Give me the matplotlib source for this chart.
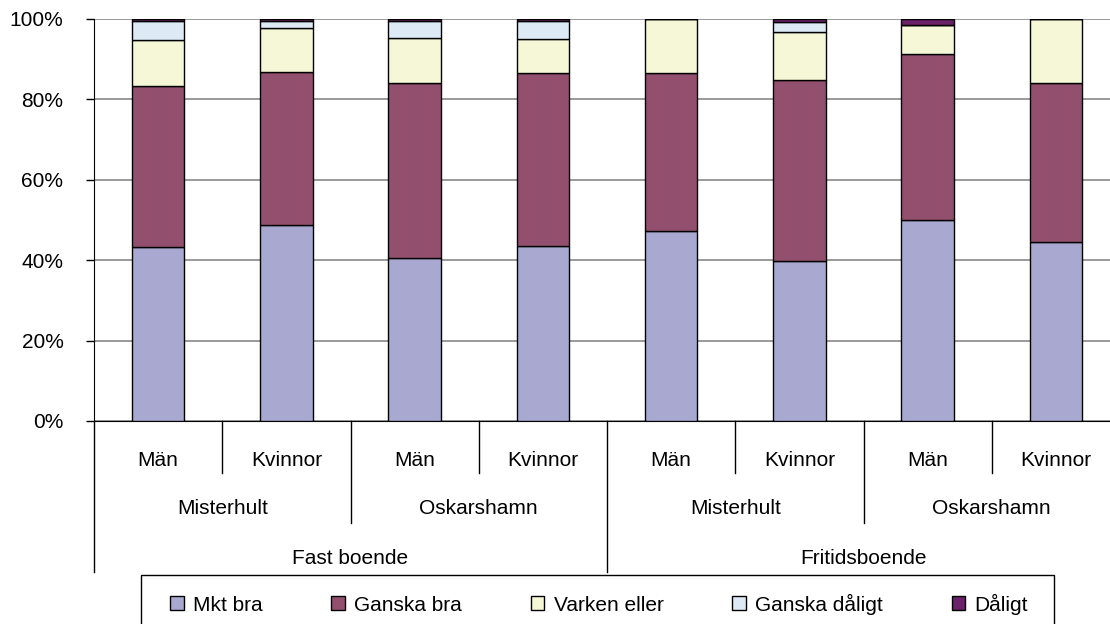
import matplotlib
matplotlib.use("Agg")
import matplotlib.pyplot as plt
from matplotlib.patches import Patch, Rectangle

plt.rcParams['font.family'] = ['Liberation Sans', 'DejaVu Sans']

# Data
sex_labels = ["Män", "Kvinnor", "Män", "Kvinnor", "Män", "Kvinnor", "Män", "Kvinnor"]
place_labels = ["Misterhult", "Oskarshamn", "Misterhult", "Oskarshamn"]
housing_labels = ["Fast boende", "Fritidsboende"]
series_names = ["Mkt bra", "Ganska bra", "Varken eller", "Ganska dåligt", "Dåligt"]
mkt_bra = [43.3, 48.8, 40.6, 43.6, 47.2, 39.7, 50.0, 44.6]
ganska_bra = [40.0, 38.1, 43.6, 42.9, 39.3, 45.2, 41.3, 39.6]
varken_eller = [11.6, 10.8, 11.0, 8.5, 13.5, 11.9, 7.1, 15.8]
ganska_daligt = [4.6, 1.9, 4.3, 4.6, 0.0, 2.5, 0.0, 0.0]
daligt = [0.5, 0.4, 0.5, 0.4, 0.0, 0.7, 1.6, 0.0]
series = [mkt_bra, ganska_bra, varken_eller, ganska_daligt, daligt]
colors = ["#A9A8D0", "#93506E", "#F6F7D7", "#DDEAF6", "#6A2169"]

FS = 15
W, H = 1110, 624
fig = plt.figure(figsize=(W / 100, H / 100), dpi=100)
x0, x1, ytop, ybot = 94, 1120, 19, 421
ax = fig.add_axes([x0 / W, 1 - ybot / H, (x1 - x0) / W, (ybot - ytop) / H])

n = len(sex_labels)
xs = [i + 0.5 for i in range(n)]
bottom = [0.0] * n
for vals, name, c in zip(series, series_names, colors):
    ax.bar(xs, vals, width=0.41, bottom=bottom, color=c, edgecolor="black",
           linewidth=1.0, label=name, zorder=3)
    bottom = [b + v for b, v in zip(bottom, vals)]

ax.set_xlim(0, n)
ax.set_ylim(0, 100)
ax.set_yticks(range(0, 101, 20))
ax.set_yticklabels([f"{v}%" for v in range(0, 101, 20)], fontsize=FS)
ax.yaxis.grid(True, color="#888888", linewidth=1.2, zorder=0)
ax.tick_params(axis='y', length=6, width=1, color="black", pad=16)
ax.set_xticks([])
for s in ["top", "right"]:
    ax.spines[s].set_visible(False)
ax.spines["left"].set_color("black")
ax.spines["bottom"].set_color("black")

tr = ax.get_xaxis_transform()
ph = ybot - ytop

def fy(py):
    return (ybot - py) / ph

for i, lab in enumerate(sex_labels):
    ax.text(i + 0.5, fy(460), lab, transform=tr, ha="center", va="center", fontsize=FS)
for i, lab in enumerate(place_labels):
    ax.text(2 * i + 1, fy(508), lab, transform=tr, ha="center", va="center", fontsize=FS)
for i, lab in enumerate(housing_labels):
    ax.text(4 * i + 2, fy(558), lab, transform=tr, ha="center", va="center", fontsize=FS)

for i in range(n + 1):
    if i % 4 == 0:
        yb = 572
    elif i % 2 == 0:
        yb = 523
    else:
        yb = 473
    ax.plot([i, i], [0, fy(yb)], transform=tr, color="black", linewidth=1.0, clip_on=False)

# legend frame
fig.patches.append(Rectangle((141 / W, 1 - 625 / H), (1054 - 141) / W, 50 / H,
                             transform=fig.transFigure, fill=False,
                             edgecolor="black", linewidth=1.0))
handles = [Patch(facecolor=c, edgecolor="black", linewidth=1.0) for c in colors]
leg = fig.legend(handles, series_names, loc="center",
                 bbox_to_anchor=(599 / W, 1 - 604 / H),
                 ncol=5, fontsize=FS, frameon=False,
                 handlelength=0.65, handleheight=0.65, handletextpad=0.45,
                 columnspacing=3.3, borderaxespad=0, borderpad=0.0)

fig.savefig("out.png", dpi=100)
